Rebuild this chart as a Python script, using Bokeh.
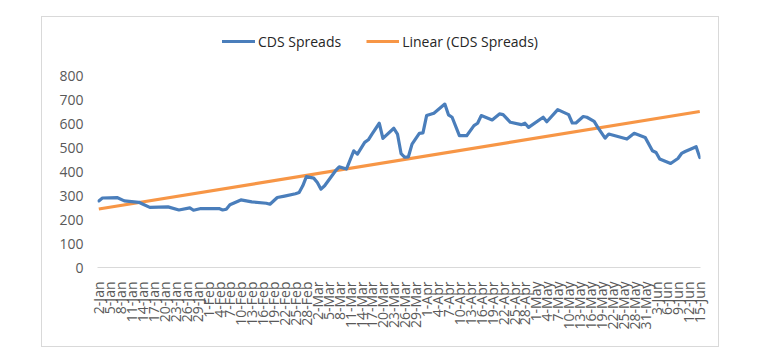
import math
import pandas as pd
from bokeh.plotting import figure
from bokeh.models import Range1d, FixedTicker, Legend, LegendItem
from bokeh.embed import file_html
from bokeh.resources import INLINE

# ---- data ----
dates = [
    "2020-01-02", "2020-01-03", "2020-01-07", "2020-01-09", "2020-01-13", "2020-01-14",
    "2020-01-16", "2020-01-21", "2020-01-24", "2020-01-27", "2020-01-28", "2020-01-30",
    "2020-02-04", "2020-02-05", "2020-02-06", "2020-02-07", "2020-02-10", "2020-02-13",
    "2020-02-17", "2020-02-18", "2020-02-20", "2020-02-22", "2020-02-25", "2020-02-26",
    "2020-02-27", "2020-02-28", "2020-03-01", "2020-03-02", "2020-03-03", "2020-03-04",
    "2020-03-06", "2020-03-07", "2020-03-08", "2020-03-10", "2020-03-12", "2020-03-13",
    "2020-03-15", "2020-03-16", "2020-03-17", "2020-03-19", "2020-03-20", "2020-03-23",
    "2020-03-24", "2020-03-25", "2020-03-26", "2020-03-27", "2020-03-28", "2020-03-30",
    "2020-03-31", "2020-04-01", "2020-04-03", "2020-04-06", "2020-04-07", "2020-04-08",
    "2020-04-10", "2020-04-12", "2020-04-14", "2020-04-15", "2020-04-16", "2020-04-19",
    "2020-04-21", "2020-04-22", "2020-04-24", "2020-04-27", "2020-04-28", "2020-04-29",
    "2020-05-03", "2020-05-04", "2020-05-07", "2020-05-10", "2020-05-11", "2020-05-12",
    "2020-05-14", "2020-05-15", "2020-05-17", "2020-05-18", "2020-05-20", "2020-05-21",
    "2020-05-26", "2020-05-28", "2020-05-31", "2020-06-02", "2020-06-03", "2020-06-04",
    "2020-06-07", "2020-06-09", "2020-06-10", "2020-06-11", "2020-06-14", "2020-06-15",
]
cds_spreads = [
    278, 290, 292, 278, 272, 265,
    251, 253, 240, 249, 239, 246,
    246, 240, 243, 262, 282, 274,
    268, 264, 292, 298, 308, 313,
    341, 379, 373, 355, 327, 341,
    383, 404, 420, 411, 487, 473,
    522, 533, 557, 602, 539, 581,
    557, 475, 460, 462, 515, 560,
    562, 634, 644, 682, 637, 627,
    550, 550, 592, 602, 634, 616,
    641, 638, 606, 596, 602, 585,
    627, 608, 659, 638, 603, 603,
    630, 627, 610, 585, 540, 557,
    536, 560, 543, 487, 480, 453,
    434, 455, 476, 484, 504, 459,
]
trend_dates = ["2020-01-02", "2020-06-15"]
trend_values = [244, 651]

tick_labels = [
    "2-Jan", "5-Jan", "8-Jan", "11-Jan", "14-Jan", "17-Jan", "20-Jan", "23-Jan", "26-Jan", "29-Jan",
    "1-Feb", "4-Feb", "7-Feb", "10-Feb", "13-Feb", "16-Feb", "19-Feb", "22-Feb", "25-Feb", "28-Feb",
    "2-Mar", "5-Mar", "8-Mar", "11-Mar", "14-Mar", "17-Mar", "20-Mar", "23-Mar", "26-Mar", "29-Mar",
    "1-Apr", "4-Apr", "7-Apr", "10-Apr", "13-Apr", "16-Apr", "19-Apr", "22-Apr", "25-Apr", "28-Apr",
    "1-May", "4-May", "7-May", "10-May", "13-May", "16-May", "19-May", "22-May", "25-May", "28-May",
    "31-May", "3-Jun", "6-Jun", "9-Jun", "12-Jun", "15-Jun",
]
y_ticks = [0, 100, 200, 300, 400, 500, 600, 700, 800]

# ---- convert dates to day offsets ----
origin = pd.Timestamp("2020-01-02")
x_vals = [(pd.Timestamp(d) - origin).days for d in dates]
trend_x = [(pd.Timestamp(d) - origin).days for d in trend_dates]
tick_pos = [(pd.to_datetime(l + "-2020", format="%d-%b-%Y") - origin).days for l in tick_labels]

FONT = "Open Sans"
TXT = "#595959"

FRAME_H = 238
Y_TOP = 800 * FRAME_H / 191.7   # frame extends above 800 to hold the legend

p = figure(
    frame_width=603, frame_height=FRAME_H,
    x_range=Range1d(-0.36, 165.2), y_range=Range1d(0, Y_TOP),
    output_backend="svg", toolbar_location=None,
    min_border_left=55, min_border_right=18, min_border_top=12, min_border_bottom=79,
    background_fill_color="white", border_fill_color="white",
    outline_line_color=None,
)
p.margin = (16, 0, 0, 41)
p.styles = {"border": "1px solid #d9d9d9"}

p.xgrid.visible = False
p.ygrid.visible = False

xa = p.xaxis[0]
xa.ticker = FixedTicker(ticks=tick_pos)
xa.major_label_overrides = {t: l for t, l in zip(tick_pos, tick_labels)}
xa.major_label_orientation = math.pi / 2
xa.major_label_text_font = FONT
xa.major_label_text_font_size = "14px"
xa.major_label_text_color = TXT
xa.major_label_standoff = 14
xa.major_tick_line_color = None
xa.minor_tick_line_color = None
xa.major_tick_out = 0
xa.axis_line_color = "#d9d9d9"
xa.axis_line_width = 1

ya = p.yaxis[0]
ya.ticker = FixedTicker(ticks=y_ticks)
ya.major_label_text_font = FONT
ya.major_label_text_font_size = "14px"
ya.major_label_text_color = TXT
ya.major_label_standoff = 14
ya.major_tick_line_color = None
ya.minor_tick_line_color = None
ya.major_tick_out = 0
ya.axis_line_color = None

r_trend = p.line(trend_x, trend_values, line_color="#F79646", line_width=3.2)
r_cds = p.line(x_vals, cds_spreads, line_color="#4A7EBB", line_width=3.2,
               line_join="round", line_cap="round")

legend = Legend(
    items=[LegendItem(label="CDS Spreads", renderers=[r_cds]),
           LegendItem(label="Linear (CDS Spreads)", renderers=[r_trend])],
    orientation="horizontal", location=(125, 216),
    label_text_font=FONT, label_text_font_size="14px", label_text_color="#262626",
    glyph_width=33, glyph_height=20, label_standoff=3, spacing=25,
    padding=0, margin=0, border_line_color=None, background_fill_alpha=0,
)
p.add_layout(legend)

open("out.html", "w").write(file_html(p, INLINE))
